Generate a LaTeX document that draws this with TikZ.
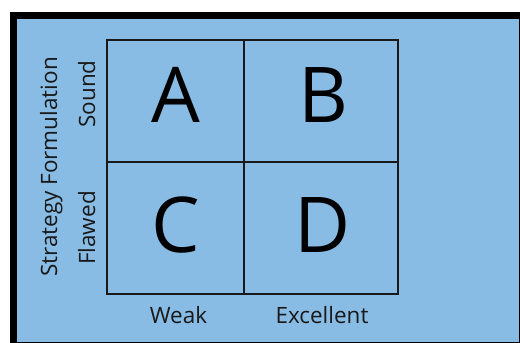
\documentclass[tikz,border=0pt]{standalone}
\usepackage{fontspec}
\setmainfont{Open Sans}
\definecolor{bg}{RGB}{136,188,228}
\definecolor{ink}{RGB}{25,25,25}
\begin{document}
\begin{tikzpicture}[x=1pt,y=-1pt,
  cell/.style={draw=ink, line width=1.3pt, inner sep=0, outer sep=0},
  letter/.style={font=\fontsize{77}{80}\selectfont, anchor=base, inner sep=0, text=black},
  lab/.style={font=\fontsize{22.5}{26}\selectfont, anchor=base, inner sep=0, text=ink}]
\useasboundingbox (0,0) rectangle (520,343);
\fill[white] (0,0) rectangle (520,343);
\fill[black] (10,12) rectangle (520,343);
\fill[bg] (17,19) rectangle (519,342);
% cells
\node[cell, minimum width=137pt, minimum height=122pt] (cA) at (175.5,101) {};
\node[cell, minimum width=154pt, minimum height=122pt] (cB) at (321,101) {};
\node[cell, minimum width=137pt, minimum height=132pt] (cC) at (175.5,228) {};
\node[cell, minimum width=154pt, minimum height=132pt] (cD) at (321,228) {};
% letters
\node[letter] (lA) at (175.5,122) {A};
\node[letter] (lB) at (323,122) {B};
\node[letter] (lC) at (175.5,252) {C};
\node[letter] (lD) at (323,252) {D};
% axis labels
\node[lab] (weak) at (178.5,323) {Weak};
\node[lab] (exc) at (322,323) {Excellent};
\node[lab, rotate=90] (sound) at (95,94) {Sound};
\node[lab, rotate=90] (flawed) at (95,228) {Flawed};
\node[lab, rotate=90] (sf) at (57,167) {Strategy Formulation};
\end{tikzpicture}
\end{document}
